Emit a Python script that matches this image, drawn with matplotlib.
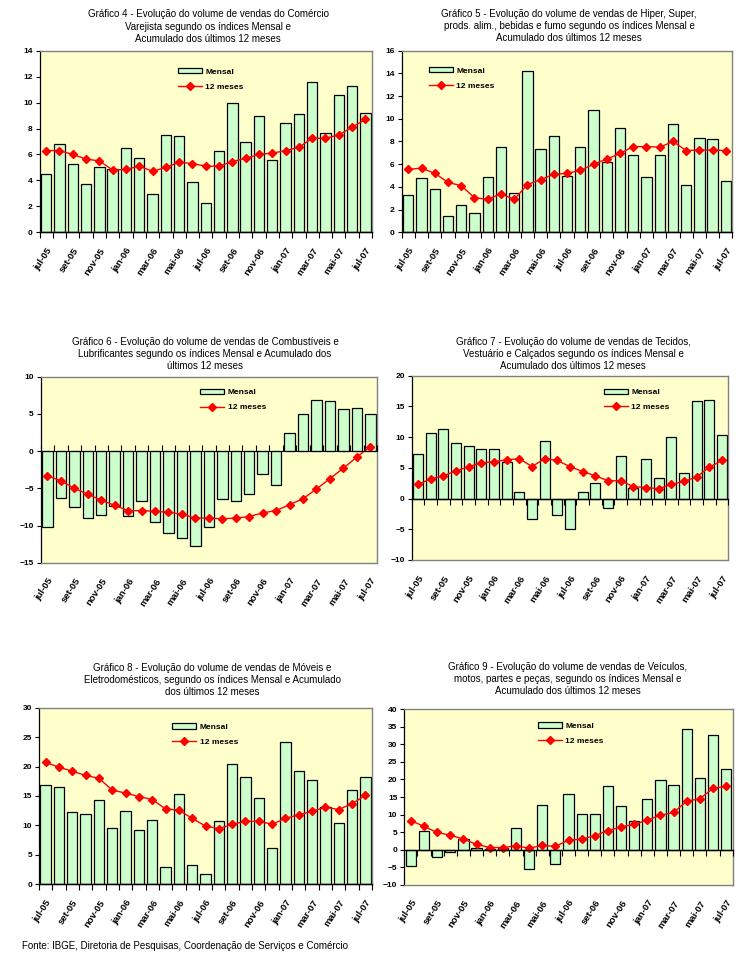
import matplotlib
matplotlib.use("Agg")
import matplotlib.pyplot as plt
from matplotlib.patches import Patch
from matplotlib.lines import Line2D

plt.rcParams['font.family'] = ['Liberation Sans', 'DejaVu Sans']

months = ['jul-05', 'ago-05', 'set-05', 'out-05', 'nov-05', 'dez-05', 'jan-06', 'fev-06',
          'mar-06', 'abr-06', 'mai-06', 'jun-06', 'jul-06', 'ago-06', 'set-06', 'out-06',
          'nov-06', 'dez-06', 'jan-07', 'fev-07', 'mar-07', 'abr-07', 'mai-07', 'jun-07', 'jul-07']

# Gráfico 4 - Comércio Varejista
g4_mensal = [4.5, 6.8, 5.3, 3.7, 5.0, 4.9, 6.5, 5.7, 2.95, 7.5, 7.4, 3.9, 2.25,
             6.25, 9.95, 6.95, 8.95, 5.6, 8.4, 9.1, 11.55, 7.65, 10.55, 11.3, 9.2]
g4_12m = [6.3, 6.3, 6.0, 5.65, 5.5, 4.8, 4.85, 5.1, 4.7, 5.0, 5.4, 5.3, 5.1,
          5.1, 5.45, 5.7, 6.0, 6.1, 6.3, 6.55, 7.25, 7.25, 7.5, 8.1, 8.7]

# Gráfico 5 - Hiper, Super, alimentos, bebidas e fumo
g5_mensal = [3.3, 4.75, 3.8, 1.4, 2.4, 1.7, 4.85, 7.5, 3.45, 14.2, 7.3, 8.5, 4.95,
             7.5, 10.8, 6.15, 9.15, 6.8, 4.85, 6.85, 9.5, 4.15, 8.3, 8.2, 4.5]
g5_12m = [5.55, 5.65, 5.2, 4.4, 4.1, 3.05, 2.9, 3.4, 2.9, 4.2, 4.65, 5.1, 5.2,
          5.45, 6.0, 6.45, 6.95, 7.55, 7.55, 7.5, 8.0, 7.2, 7.25, 7.25, 7.2]

# Gráfico 6 - Combustíveis e Lubrificantes
g6_mensal = [-10.2, -6.3, -7.5, -9.0, -8.6, -7.4, -8.7, -6.7, -9.5, -11.0, -11.7, -12.8, -10.2,
             -6.4, -6.7, -5.7, -3.1, -4.5, 2.4, 5.0, 6.9, 6.7, 5.7, 5.8, 5.0]
g6_12m = [-3.3, -4.0, -5.0, -5.8, -6.6, -7.3, -8.0, -8.0, -8.1, -8.2, -8.5, -9.0, -9.0,
          -9.1, -9.0, -8.8, -8.3, -8.0, -7.2, -6.4, -5.1, -3.7, -2.3, -0.8, 0.6]

# Gráfico 7 - Tecidos, Vestuário e Calçados
g7_mensal = [7.2, 10.6, 11.4, 9.1, 8.5, 8.1, 8.1, 6.0, 1.0, -3.3, 9.3, -2.6, -5.0,
             1.1, 2.6, -1.5, 7.0, 1.8, 6.5, 3.4, 9.95, 4.2, 15.95, 16.1, 10.4]
g7_12m = [2.3, 3.2, 3.7, 4.5, 5.2, 5.8, 6.0, 6.3, 6.5, 5.2, 6.5, 6.2, 5.2,
          4.4, 3.7, 2.9, 2.9, 1.95, 1.8, 1.6, 2.3, 2.8, 3.5, 5.1, 6.2]

# Gráfico 8 - Móveis e Eletrodomésticos
g8_mensal = [16.8, 16.6, 12.2, 11.9, 14.4, 9.5, 12.5, 9.3, 11.0, 2.9, 15.3, 3.2, 1.7,
             10.7, 20.5, 18.2, 14.6, 6.1, 24.1, 19.2, 17.7, 13.1, 10.4, 16.1, 18.2]
g8_12m = [20.7, 19.9, 19.2, 18.5, 18.0, 16.0, 15.5, 14.9, 14.4, 12.8, 12.6, 11.2, 9.9,
          9.45, 10.2, 10.7, 10.7, 10.2, 11.2, 11.8, 12.4, 13.1, 12.7, 13.7, 15.1]

# Gráfico 9 - Veículos, motos, partes e peças
g9_mensal = [-4.7, 5.2, -2.2, -0.7, 3.0, 0.6, 0.3, 0.5, 6.1, -5.4, 12.6, -4.0, 15.8,
             10.1, 10.1, 18.1, 12.4, 8.1, 14.4, 19.8, 18.3, 34.3, 20.3, 32.6, 22.9]
g9_12m = [8.3, 6.6, 4.9, 4.1, 3.0, 1.5, 0.6, 0.6, 1.1, 0.4, 1.2, 0.9, 2.7,
          3.0, 4.0, 5.4, 6.5, 7.2, 8.4, 9.8, 10.6, 13.8, 14.5, 17.5, 18.0]

titles = [
    "Gráfico 4 - Evolução do volume de vendas do Comércio\nVarejista segundo os índices Mensal e\nAcumulado dos últimos 12 meses",
    "Gráfico 5 - Evolução do volume de vendas de Hiper, Super,\nprods. alim., bebidas e fumo segundo os índices Mensal e\nAcumulado dos últimos 12 meses",
    "Gráfico 6 - Evolução do volume de vendas de Combustíveis e\nLubrificantes segundo os índices Mensal e Acumulado dos\núltimos 12 meses",
    "Gráfico 7 - Evolução do volume de vendas de Tecidos,\nVestuário e Calçados segundo os índices Mensal e\nAcumulado dos últimos 12 meses",
    "Gráfico 8 - Evolução do volume de vendas de Móveis e\nEletrodomésticos, segundo os índices Mensal e Acumulado\ndos últimos 12 meses",
    "Gráfico 9 - Evolução do volume de vendas de Veículos,\nmotos, partes e peças, segundo os índices Mensal e\nAcumulado dos últimos 12 meses",
]

series = [(g4_mensal, g4_12m), (g5_mensal, g5_12m), (g6_mensal, g6_12m),
          (g7_mensal, g7_12m), (g8_mensal, g8_12m), (g9_mensal, g9_12m)]
ylims = [(0, 14, 2), (0, 16, 2), (-15, 10, 5), (-10, 20, 5), (0, 30, 5), (-10, 40, 5)]

W, H = 742, 960
# axes boxes in pixels: left, top, right, bottom
boxes = [(39.5, 50.7, 372, 232.3), (401.7, 50.7, 732.5, 232.3),
         (40.7, 376.7, 377, 562.7), (411.7, 375.7, 728.3, 560),
         (39, 707.7, 372, 884.3), (404.3, 709.3, 732.7, 884.7)]
title_pos = [(208, 26.5), (569, 26), (205, 354), (573, 354), (212, 680), (568, 679)]
legend_pos = [(0.4165, 0.905), (0.0825, 0.91), (0.4737, 0.935),
              (0.607, 0.93), (0.3994, 0.912), (0.407, 0.925)]

BAR = '#CCFFCC'
BG = '#FFFFCC'
RED = '#FF0000'
GRAY = '#808080'

fig = plt.figure(figsize=(W / 100, H / 100), dpi=100)

x = list(range(len(months)))
bounds = [i - 0.5 for i in range(len(months) + 1)]

for k in range(6):
    l, t, r, b = boxes[k]
    ax = fig.add_axes([l / W, 1 - b / H, (r - l) / W, (b - t) / H])
    ax.set_facecolor(BG)
    mens, m12 = series[k]
    ax.bar(x, mens, width=0.78, color=BAR, edgecolor='black', linewidth=0.9, zorder=2)
    ax.plot(x, m12, color=RED, linewidth=1.0, marker='D', markersize=4.2,
            markerfacecolor=RED, markeredgecolor=RED, zorder=4)
    ymin, ymax, step = ylims[k]
    ax.set_ylim(ymin, ymax)
    ax.set_xlim(-0.5, len(months) - 0.5)
    ax.set_yticks(list(range(ymin, ymax + 1, step)))
    ax.tick_params(axis='y', length=3, width=0.8, labelsize=6, pad=2, direction='out')
    for lab in ax.get_yticklabels():
        lab.set_fontweight('bold')
    ax.set_xticks(x[::2])
    ax.set_xticklabels(months[::2], rotation=57, ha='right', va='top',
                       rotation_mode='anchor', fontsize=6.8, fontweight='bold')
    ax.tick_params(axis='x', length=0, pad=10)
    for side in ['top', 'right', 'bottom']:
        ax.spines[side].set_color(GRAY)
        ax.spines[side].set_linewidth(1.0)
    ax.spines['left'].set_color('black')
    ax.spines['left'].set_linewidth(0.9)

    zf = (0 - ymin) / (ymax - ymin)
    sec = ax.secondary_xaxis(zf)
    sec.set_xticks(bounds, labels=[''] * len(bounds))
    sec.tick_params(axis='x', length=4, width=0.8, direction='out')
    sec.spines['bottom'].set_color('black')
    sec.spines['bottom'].set_linewidth(1.0)
    sec.set_zorder(5)

    handles = [Patch(facecolor=BAR, edgecolor='black', linewidth=0.9),
               Line2D([0], [0], color=RED, linewidth=1.0, marker='D', markersize=4.2)]
    ax.legend(handles, ['Mensal', '12 meses'], loc='upper left',
              bbox_to_anchor=legend_pos[k], frameon=False, borderpad=0,
              borderaxespad=0, handlelength=2.9, handleheight=0.6,
              handletextpad=0.4, labelspacing=0.9,
              prop={'size': 6, 'weight': 'bold'})

    tx, ty = title_pos[k]
    fig.text(tx / W, 1 - ty / H, titles[k], ha='center', va='center',
             fontsize=7, linespacing=1.3)

fig.text(22 / W, 1 - 946 / H,
         "Fonte: IBGE, Diretoria de Pesquisas, Coordenação de Serviços e Comércio",
         ha='left', va='center', fontsize=7)

fig.savefig('out.png', dpi=100, facecolor='white')
